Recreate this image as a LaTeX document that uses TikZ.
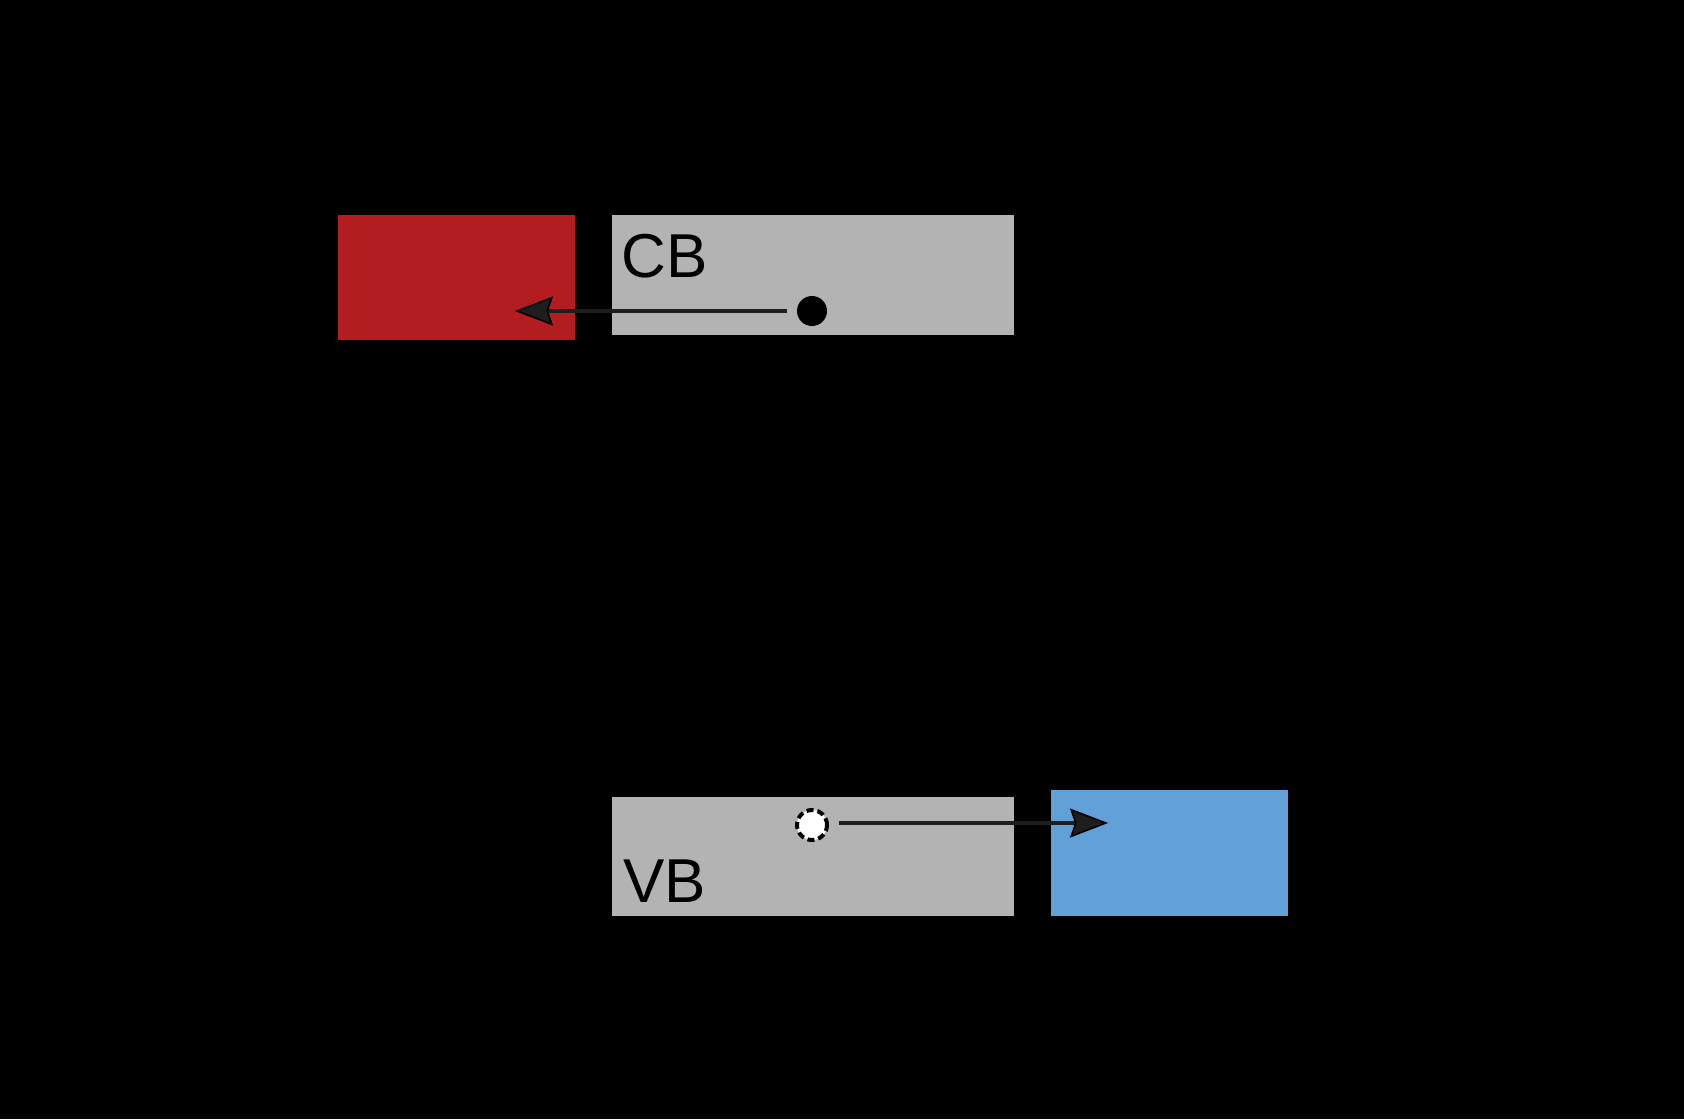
\documentclass[tikz,border=0pt]{standalone}
\usepackage{fontspec}
\setmainfont{Liberation Sans}
\usepackage{tikz}
\usetikzlibrary{arrows.meta,positioning}
\definecolor{boxred}{RGB}{178,30,32}
\definecolor{boxblue}{RGB}{98,160,216}
\definecolor{boxgray}{RGB}{179,179,179}
\definecolor{ink}{RGB}{30,30,30}
\tikzset{
  block/.style={draw=none, inner sep=0pt, anchor=north west},
  tag/.style={inner sep=0pt, anchor=base west, font=\fontsize{31}{37}\selectfont, text=black},
  flow/.style={-{Stealth[length=19pt, width=14.5pt, inset=2.5pt, color=black, fill=ink, line width=0.8pt]}, line width=1.6pt, draw=ink},
  ring/.style={circle, fill=white, draw=black, dash pattern=on 3.5pt off 2pt, line width=2pt, minimum size=15pt, inner sep=0pt},
  dot/.style={circle, fill=black, minimum size=15pt, inner sep=0pt}
}
\begin{document}
\begin{tikzpicture}[x=1pt,y=-1pt]
\fill[black] (0,0) rectangle (842,559.5);
\useasboundingbox (0,0) rectangle (842,559.5);

% top row
\node[block, fill=boxgray, minimum width=201pt, minimum height=60pt] (cb) at (306,107.5) {};
\node[block, fill=boxred, minimum width=118.5pt, minimum height=62.5pt, left=18.5pt of cb.north west, anchor=north east] (red) {};
\node[tag] (cblabel) at (310.5,138.5) {CB};
\node[dot] (cbdot) at (406,155.5) {};
\coordinate (cbtip) at (257.5,155.5);

% bottom row
\node[block, fill=boxgray, minimum width=201pt, minimum height=59.5pt] (vb) at (306,398.5) {};
\node[block, fill=boxblue, minimum width=118.5pt, minimum height=63pt, anchor=south west] (blue) at (525.5,458) {};
\node[tag] (vblabel) at (311.5,451) {VB};
\node[ring] (vbring) at (406,412.5) {};
\coordinate (vbtip) at (554,411.5);

\draw[flow, shorten <=5pt] (cbdot) -- (cbtip);
\draw[flow, shorten <=5pt] (vbring.east |- vbtip) -- (vbtip);
\end{tikzpicture}
\end{document}
